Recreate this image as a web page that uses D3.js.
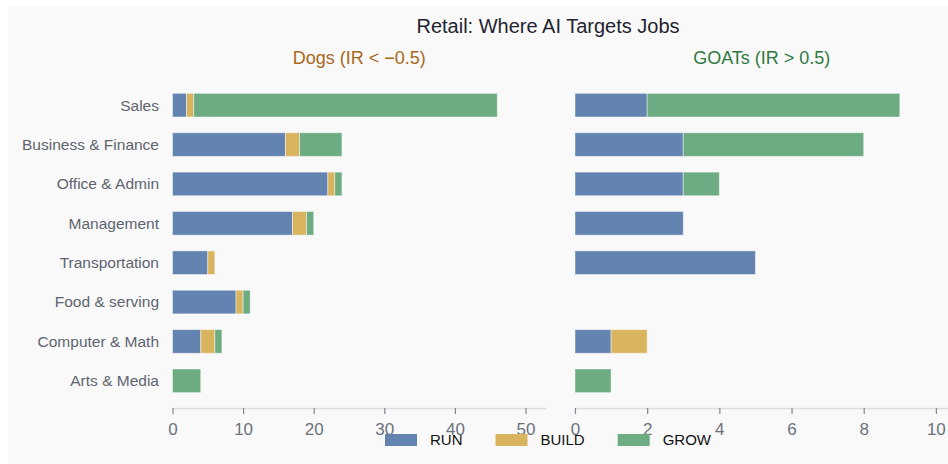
<!DOCTYPE html>
<html>
<head>
<meta charset="utf-8">
<script src="https://cdn.jsdelivr.net/npm/d3@7"></script>
<style>
  body { margin: 0; background: #fff; }
  svg { display: block; font-family: "Liberation Sans", Arial, sans-serif; }
</style>
</head>
<body>
<div id="wrapper"></div>
<script>
// Data
const categories = ["Sales", "Business & Finance", "Office & Admin", "Management",
  "Transportation", "Food & serving", "Computer & Math", "Arts & Media"];
const seriesNames = ["RUN", "BUILD", "GROW"];
const seriesColors = ["#6383b0", "#d9b45f", "#6dab82"];

const dogsRun   = [2, 16, 22, 17, 5, 9, 4, 0];
const dogsBuild = [1,  2,  1,  2, 1, 1, 2, 0];
const dogsGrow  = [43, 6,  1,  1, 0, 1, 1, 4];

const goatsRun   = [2, 3, 3, 3, 5, 0, 1, 0];
const goatsBuild = [0, 0, 0, 0, 0, 0, 1, 0];
const goatsGrow  = [7, 5, 1, 0, 0, 0, 0, 1];

const dogsTicks = [0, 10, 20, 30, 40, 50];
const goatsTicks = [0, 2, 4, 6, 8, 10];

function buildRows(run, build, grow) {
  return categories.map((c, i) => ({ cat: c, RUN: run[i], BUILD: build[i], GROW: grow[i] }));
}

// Dimensions
const dimensions = {
  width: 948,
  height: 464,
  axisY: 408,
  bandTop: 85.5,
  bandBottom: 400.5,
};

const wrapper = d3.select("#wrapper")
  .append("svg")
    .attr("width", dimensions.width)
    .attr("height", dimensions.height);

// panel background
wrapper.append("rect")
  .attr("x", 8).attr("y", 6)
  .attr("width", dimensions.width - 8)
  .attr("height", dimensions.height - 6)
  .attr("fill", "#f9f9f9");

wrapper.append("text")
  .attr("x", 548).attr("y", 33)
  .attr("text-anchor", "middle")
  .attr("font-size", 20)
  .attr("fill", "#1f2430")
  .text("Retail: Where AI Targets Jobs");

const yScale = d3.scaleBand()
  .domain(categories)
  .range([dimensions.bandTop, dimensions.bandBottom])
  .paddingInner(0.4)
  .paddingOuter(0.2);

const stack = d3.stack().keys(seriesNames);
const color = d3.scaleOrdinal().domain(seriesNames).range(seriesColors);

function drawPanel(rows, x0, x1, ticks, title, titleColor) {
  const maxTotal = d3.max(rows, d => d.RUN + d.BUILD + d.GROW);
  const xScale = d3.scaleLinear()
    .domain([0, maxTotal * 1.15])
    .range([x0, x1]);

  wrapper.append("text")
    .attr("x", (x0 + x1) / 2).attr("y", 64)
    .attr("text-anchor", "middle")
    .attr("font-size", 18)
    .attr("fill", titleColor)
    .text(title);

  const layers = wrapper.append("g")
    .selectAll("g")
    .data(stack(rows))
    .join("g")
      .attr("fill", d => color(d.key));

  layers.selectAll("rect")
    .data(d => d.filter(p => p[1] - p[0] > 0))
    .join("rect")
      .attr("x", p => xScale(p[0]))
      .attr("y", p => yScale(p.data.cat))
      .attr("width", p => xScale(p[1]) - xScale(p[0]))
      .attr("height", yScale.bandwidth())
      .attr("stroke", "#ffffff")
      .attr("stroke-opacity", 0.45)
      .attr("stroke-width", 1);

  const xAxis = d3.axisBottom(xScale)
    .tickValues(ticks)
    .tickSize(6)
    .tickPadding(9)
    .tickSizeOuter(0);

  const axisG = wrapper.append("g")
    .attr("transform", `translate(0, ${dimensions.axisY})`)
    .call(xAxis);
  axisG.select(".domain").attr("stroke", "#dddddd").attr("stroke-width", 1.5);
  axisG.selectAll(".tick line").attr("stroke", "#80858f").attr("stroke-width", 1.2);
  axisG.selectAll(".tick text")
    .attr("font-size", 17)
    .attr("font-family", "Liberation Sans, Arial, sans-serif")
    .attr("fill", "#6b717c");
}

drawPanel(buildRows(dogsRun, dogsBuild, dogsGrow), 172.5, 546, dogsTicks,
  "Dogs (IR < \u22120.5)", "#a8681c");
drawPanel(buildRows(goatsRun, goatsBuild, goatsGrow), 575, 948.5, goatsTicks,
  "GOATs (IR > 0.5)", "#2f7a3f");

// Category labels
wrapper.append("g")
  .selectAll("text")
  .data(categories)
  .join("text")
    .attr("x", 159)
    .attr("y", d => yScale(d) + yScale.bandwidth() / 2)
    .attr("dy", "0.35em")
    .attr("text-anchor", "end")
    .attr("font-size", 15.5)
    .attr("fill", "#5e6470")
    .text(d => d);

// Legend
const legend = wrapper.append("g")
  .attr("transform", "translate(385, 434)");
let lx = 0;
seriesNames.forEach(name => {
  const item = legend.append("g").attr("transform", `translate(${lx}, 0)`);
  item.append("rect")
    .attr("width", 32).attr("height", 12)
    .attr("fill", color(name));
  const t = item.append("text")
    .attr("x", 45).attr("y", 6)
    .attr("dy", "0.35em")
    .attr("font-size", 15)
    .attr("fill", "#111")
    .text(name);
  lx += 45 + t.node().getComputedTextLength() + 33;
});
</script>
</body>
</html>
